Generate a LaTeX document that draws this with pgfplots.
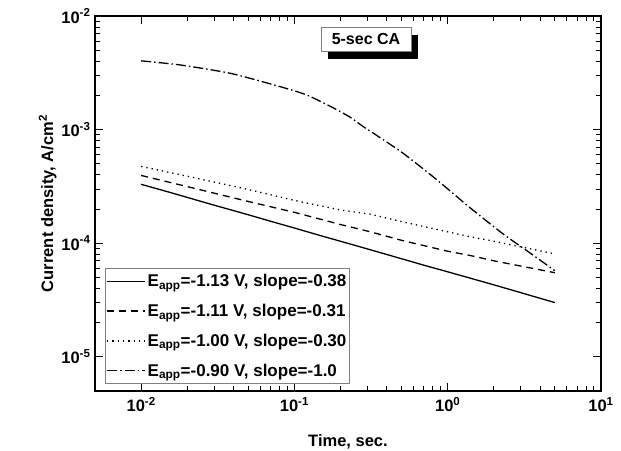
\documentclass[border=0pt]{standalone}
\usepackage{pgfplots}
\pgfplotsset{compat=1.18}
\usepackage{fontspec}
\setmainfont{Liberation Sans}
\usetikzlibrary{shadows}
\begin{document}
\begin{tikzpicture}
\useasboundingbox (-95pt,-59pt) rectangle (526pt,391pt);
\begin{axis}[
  at={(0pt,0pt)}, anchor=south west,
  scale only axis, width=506pt, height=375pt,
  xmode=log, ymode=log,
  xmin=5e-3, xmax=10, ymin=5e-6, ymax=1e-2,
  axis line style={line width=1.5pt},
  tick style={line width=1pt, black},
  tick align=inside,
  major tick length=8pt, minor tick length=5pt,
  xtick={0.01,0.1,1,10},
  xticklabels={\textbf{10\textsuperscript{-2}},\textbf{10\textsuperscript{-1}},\textbf{10\textsuperscript{0}},\textbf{10\textsuperscript{1}}},
  ytick={1e-5,1e-4,1e-3,1e-2},
  yticklabels={\textbf{10\textsuperscript{-5}},\textbf{10\textsuperscript{-4}},\textbf{10\textsuperscript{-3}},\textbf{10\textsuperscript{-2}}},
  ticklabel style={font=\fontsize{16.5}{19}\selectfont},
  xticklabel style={yshift=-3pt},
  yticklabel style={xshift=-1pt},
  xlabel={\textbf{Time, sec.}},
  ylabel={\textbf{Current density, A/cm\textsuperscript{2}}},
  label style={font=\fontsize{16.5}{19}\selectfont},
  xlabel style={yshift=-16pt},
  ylabel style={yshift=-2pt},
  legend style={at={(axis description cs:0.0198,0.0187)}, anchor=south west,
    draw=gray, line width=0.8pt, font=\fontsize{17}{19}\selectfont\bfseries,
    row sep=12pt, inner ysep=4pt, inner xsep=1pt, cells={anchor=west},
    nodes={inner xsep=2pt}},
  legend image code/.code={\draw[#1] (-2pt,0pt) -- (36pt,0pt);},
  legend cell align=left,
]
\addplot[black, line width=1.3pt] coordinates {
(0.01,3.30e-4)(0.015,2.83e-4)(0.02,2.53e-4)(0.03,2.16e-4)(0.05,1.78e-4)(0.07,1.56e-4)
(0.1,1.36e-4)(0.15,1.16e-4)(0.2,1.04e-4)(0.3,8.9e-5)(0.5,7.3e-5)(0.7,6.4e-5)
(1,5.6e-5)(1.5,4.8e-5)(2,4.3e-5)(3,3.67e-5)(5,3.0e-5)};
\addlegendentry{E\textsubscript{app}=-1.13 V, slope=-0.38}
\addplot[black, line width=1.3pt, dash pattern=on 7pt off 5pt] coordinates {
(0.01,3.95e-4)(0.02,3.15e-4)(0.05,2.33e-4)(0.1,1.87e-4)(0.2,1.46e-4)(0.313,1.26e-4)
(0.5,1.06e-4)(1,8.5e-5)(1.4,7.8e-5)(2,7.0e-5)(5,5.5e-5)};
\addlegendentry{E\textsubscript{app}=-1.11 V, slope=-0.31}
\addplot[black, line width=1.3pt, dash pattern=on 1.3pt off 4pt] coordinates {
(0.01,4.74e-4)(0.02,3.89e-4)(0.05,2.97e-4)(0.1,2.38e-4)(0.2,1.96e-4)(0.313,1.80e-4)
(0.5,1.55e-4)(1,1.26e-4)(1.4,1.14e-4)(2,1.04e-4)(5,8.05e-5)};
\addlegendentry{E\textsubscript{app}=-1.00 V, slope=-0.30}
\addplot[black, line width=1.3pt, dash pattern=on 10pt off 3pt on 1.5pt off 3pt, smooth, tension=0.4] coordinates {
(0.01,4.03e-3)(0.0182,3.70e-3)(0.0386,3.12e-3)(0.0815,2.38e-3)(0.12,2.02e-3)(0.172,1.60e-3)
(0.23,1.29e-3)(0.282,1.06e-3)(0.353,8.7e-4)(0.516,6.14e-4)(0.853,3.6e-4)(1.4,2.05e-4)
(2.31,1.20e-4)(3.28,8.6e-5)(5,5.73e-5)};
\addlegendentry{E\textsubscript{app}=-0.90 V, slope=-1.0}
\node[draw=gray, line width=0.8pt, fill=white, minimum width=90pt, minimum height=24pt,
  inner sep=0pt,
  drop shadow={shadow xshift=7pt, shadow yshift=-8pt, fill=black, opacity=1},
  font=\fontsize{16}{18}\selectfont\bfseries] at (axis description cs:0.5356,0.9387) {5-sec CA};
\end{axis}
\end{tikzpicture}
\end{document}
